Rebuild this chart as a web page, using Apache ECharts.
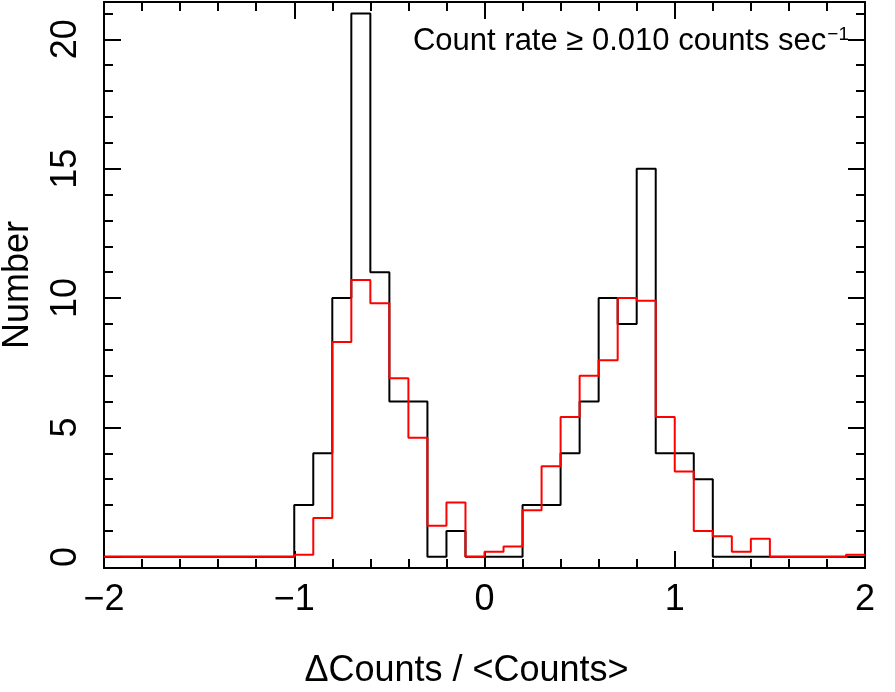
<!DOCTYPE html>
<html>
<head>
<meta charset="utf-8">
<script src="https://cdn.jsdelivr.net/npm/echarts@6/dist/echarts.min.js"></script>
<style>
  html, body { margin: 0; padding: 0; background: #fff; }
  #chart { width: 895px; height: 692px; }
</style>
</head>
<body>
<div id="chart"></div>
<script>
// histogram bins: 40 bins of width 0.1 from -2 to 2
const binStart = -2;
const binWidth = 0.1;

// observed counts (black)
const observed = [
  0, 0, 0, 0, 0, 0, 0, 0, 0, 0,
  2, 4, 10, 21, 11, 6, 6, 0, 1, 0,
  0, 0, 2, 2, 4, 6, 10, 9, 15, 4,
  4, 3, 0, 0, 0, 0, 0, 0, 0, 0
];

// comparison distribution (red)
const expected = [
  0, 0, 0, 0, 0, 0, 0, 0, 0, 0,
  0.08, 1.5, 8.3, 10.7, 9.8, 6.9, 4.6, 1.2, 2.1, 0,
  0.2, 0.4, 1.8, 3.5, 5.4, 7.0, 7.6, 10.0, 9.9, 5.4,
  3.3, 1.0, 0.8, 0.2, 0.7, 0, 0, 0, 0, 0.08
];

const yMajor = [0, 5, 10, 15, 20];
const yMinor = [0, 1, 2, 3, 4, 5, 6, 7, 8, 9, 10, 11, 12, 13, 14, 15, 16, 17, 18, 19, 20, 21];

const font = "'Liberation Sans', Arial, sans-serif";

// step line points: left edge of each bin + closing right edge
function steps(vals) {
  const pts = vals.map((v, i) => [+(binStart + i * binWidth).toFixed(2), v]);
  pts.push([+(binStart + vals.length * binWidth).toFixed(2), vals[vals.length - 1]]);
  return pts;
}

const fmtNum = v => (v < 0 ? "\u2212" + Math.abs(v) : String(v));

const xBase = {
  type: "value",
  min: -2,
  max: 2,
  interval: 1,
  splitLine: { show: false },
  axisLine: { show: true, onZero: false, lineStyle: { color: "#000", width: 2 } },
  axisTick: { show: true, inside: true, length: 17, lineStyle: { color: "#000", width: 2 } },
  minorTick: { show: true, splitNumber: 5, length: 9, lineStyle: { color: "#000", width: 2 } },
  minorSplitLine: { show: false }
};

const yBase = {
  type: "value",
  min: -0.43,
  max: 21.44,
  splitLine: { show: false },
  axisLine: { show: true, onZero: false, lineStyle: { color: "#000", width: 2 } }
};

const option = {
  animation: false,
  backgroundColor: "#fff",
  grid: { left: 104, top: 2, width: 761, height: 566, containLabel: false, outerBoundsMode: "none" },
  xAxis: [
    Object.assign({}, xBase, {
      position: "bottom",
      name: "\u0394Counts / <Counts>",
      nameLocation: "middle",
      nameGap: 85,
      nameTextStyle: { color: "#000", fontSize: 36, fontFamily: font, padding: [0, 36, 0, 0] },
      axisLabel: { show: true, color: "#000", fontSize: 36, fontFamily: font, margin: 14, formatter: fmtNum }
    }),
    Object.assign({}, xBase, {
      position: "top",
      axisLabel: { show: false }
    })
  ],
  yAxis: [
    Object.assign({}, yBase, {
      position: "left",
      name: "Number",
      nameLocation: "middle",
      nameRotate: 90,
      nameGap: 68,
      nameTextStyle: { color: "#000", fontSize: 36, fontFamily: font },
      axisTick: { show: true, inside: true, length: 17, customValues: yMajor, lineStyle: { color: "#000", width: 2 } },
      axisLabel: { show: true, rotate: 90, color: "#000", fontSize: 36, fontFamily: font, margin: 20, customValues: yMajor }
    }),
    Object.assign({}, yBase, {
      position: "left",
      axisTick: { show: true, inside: true, length: 9, customValues: yMinor, lineStyle: { color: "#000", width: 2 } },
      axisLabel: { show: false }
    }),
    Object.assign({}, yBase, {
      position: "right",
      axisTick: { show: true, inside: true, length: 17, customValues: yMajor, lineStyle: { color: "#000", width: 2 } },
      axisLabel: { show: false }
    }),
    Object.assign({}, yBase, {
      position: "right",
      axisTick: { show: true, inside: true, length: 9, customValues: yMinor, lineStyle: { color: "#000", width: 2 } },
      axisLabel: { show: false }
    })
  ],
  graphic: [
    {
      type: "text",
      right: 46,
      top: 25,
      style: {
        text: "Count rate \u2265 0.010 counts sec{sup|\u22121}",
        font: "31px " + font,
        fill: "#000",
        rich: {
          sup: { fontSize: 19, fontFamily: font, verticalAlign: "top", padding: [0, 0, 14, 1] }
        }
      }
    }
  ],
  series: [
    {
      name: "observed",
      type: "line",
      step: "end",
      symbol: "none",
      data: steps(observed),
      lineStyle: { color: "#000", width: 2 },
      z: 2
    },
    {
      name: "expected",
      type: "line",
      step: "end",
      symbol: "none",
      data: steps(expected),
      lineStyle: { color: "#ff0000", width: 2 },
      z: 3
    }
  ]
};

const chart = echarts.init(document.getElementById("chart"));
chart.setOption(option);
</script>
</body>
</html>
